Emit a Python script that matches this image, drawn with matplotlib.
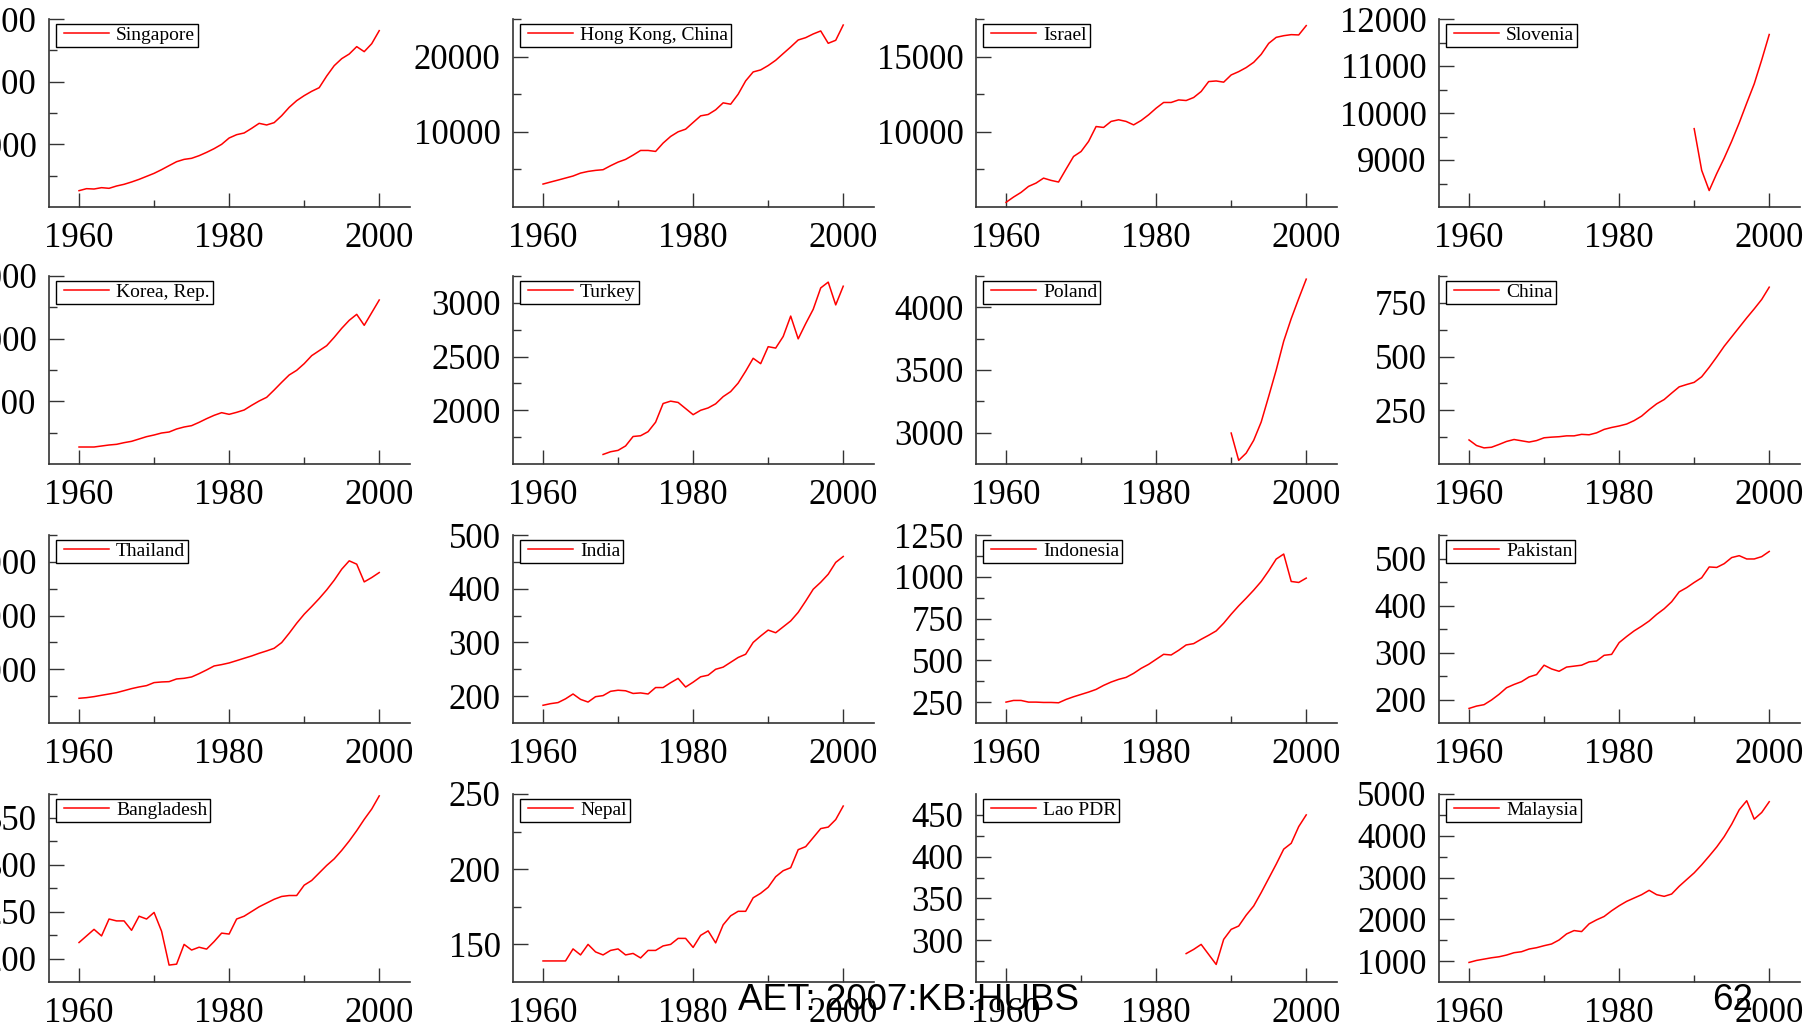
import numpy as np
import matplotlib
matplotlib.use("Agg")
import matplotlib.pyplot as plt
from matplotlib.ticker import FixedLocator, FuncFormatter
from matplotlib.lines import Line2D
from matplotlib.legend_handler import HandlerLine2D

plt.rcParams['font.family'] = ['Liberation Serif', 'DejaVu Serif']

# ---------------- data (GDP per capita) ----------------
countries = ["Singapore", "Hong Kong, China", "Israel", "Slovenia",
             "Korea, Rep.", "Turkey", "Poland", "China",
             "Thailand", "India", "Indonesia", "Pakistan",
             "Bangladesh", "Nepal", "Lao PDR", "Malaysia"]

start_years = [1960, 1960, 1960, 1990,
               1960, 1968, 1990, 1960,
               1960, 1960, 1960, 1960,
               1960, 1960, 1984, 1960]

singapore = [2606, 2926, 2870, 3085, 2980, 3350, 3620, 3990, 4410, 4890, 5370, 5960, 6600, 7230,
             7600, 7770, 8190, 8720, 9310, 10000, 11010, 11540, 11810, 12550, 13350, 13090, 13460,
             14570, 15900, 16970, 17770, 18460, 19040, 20900, 22550, 23670, 24410, 25590, 24790,
             26060, 28140]
hong_kong = [3050, 3320, 3580, 3850, 4120, 4510, 4730, 4870, 4960, 5490, 5970, 6330, 6900, 7520,
             7520, 7390, 8500, 9380, 10000, 10350, 11240, 12120, 12300, 12920, 13850, 13670, 15000,
             16770, 17960, 18230, 18810, 19510, 20400, 21280, 22210, 22520, 23010, 23410, 21770,
             22170, 24200]
israel = [5310, 5660, 5970, 6370, 6590, 6920, 6770, 6660, 7520, 8360, 8690, 9360, 10350, 10290,
          10690, 10800, 10690, 10460, 10750, 11130, 11570, 11950, 11950, 12120, 12080, 12280, 12680,
          13340, 13380, 13300, 13780, 14000, 14270, 14620, 15150, 15880, 16280, 16390, 16460,
          16440, 17060]
slovenia = [9667, 8780, 8350, 8710, 9040, 9400, 9790, 10210, 10620, 11130, 11670]
korea = [1356, 1356, 1356, 1436, 1516, 1570, 1702, 1809, 1995, 2181, 2314, 2473, 2553, 2793, 2952,
         3059, 3324, 3617, 3883, 4096, 3963, 4122, 4309, 4681, 5027, 5319, 5904, 6516, 7101, 7473,
         8005, 8644, 9043, 9441, 10106, 10824, 11463, 11941, 11064, 12074, 13085]
turkey = [1589, 1614, 1627, 1668, 1756, 1763, 1801, 1889, 2063, 2085, 2073, 2016, 1959, 2000,
          2022, 2060, 2127, 2174, 2253, 2364, 2484, 2434, 2592, 2579, 2687, 2877, 2665, 2807,
          2940, 3139, 3193, 2981, 3155]
poland = [2997, 2779, 2837, 2939, 3085, 3290, 3500, 3730, 3910, 4070, 4225]
china = [112, 86, 75, 78, 91, 105, 114, 108, 102, 109, 122, 125, 127, 131, 131, 138, 136, 145, 161,
         170, 177, 186, 202, 223, 253, 280, 300, 330, 359, 370, 380, 406, 450, 498, 548, 592, 636,
         680, 722, 766, 823]
thailand = [460, 472, 491, 516, 540, 565, 602, 640, 671, 696, 752, 764, 770, 820, 832, 857, 919,
            988, 1062, 1087, 1118, 1161, 1205, 1248, 1298, 1342, 1391, 1497, 1671, 1857, 2025,
            2168, 2317, 2478, 2658, 2863, 3019, 2957, 2627, 2708, 2801]
india = [183, 186, 188, 195, 204, 194, 189, 199, 201, 209, 211, 210, 205, 206, 204, 216, 216, 225,
         233, 217, 226, 236, 239, 250, 254, 263, 272, 278, 300, 312, 323, 318, 329, 340, 356, 377,
         399, 412, 427, 449, 460]
indonesia = [250, 260, 260, 250, 250, 248, 248, 246, 266, 282, 296, 310, 326, 350, 370, 386, 398,
             422, 452, 476, 506, 536, 532, 560, 592, 600, 626, 650, 676, 722, 776, 826, 872, 920,
             972, 1036, 1106, 1136, 972, 966, 992]
pakistan = [181, 186, 189, 199, 211, 225, 232, 238, 248, 253, 273, 265, 260, 269, 271, 273, 280,
            282, 294, 296, 321, 334, 346, 356, 367, 381, 393, 408, 429, 438, 449, 459, 482, 481,
            489, 502, 506, 499, 499, 504, 515]
bangladesh = [217, 224, 231, 224, 242, 240, 240, 230, 245, 242, 249, 229, 193, 194, 215, 209, 212,
              210, 218, 227, 226, 242, 245, 250, 255, 259, 263, 266, 267, 267, 278, 283, 291, 299,
              306, 315, 325, 336, 348, 359, 373]
nepal = [139, 139, 139, 139, 147, 143, 150, 145, 143, 146, 147, 143, 144, 141, 146, 146, 149, 150,
         154, 154, 148, 156, 159, 151, 163, 169, 172, 172, 181, 184, 188, 195, 199, 201, 213, 215,
         221, 227, 228, 233, 242]
lao = [284, 289, 295, 283, 271, 301, 313, 317, 330, 341, 357, 374, 391, 409, 416, 436, 450]
malaysia = [968, 1016, 1048, 1080, 1104, 1145, 1201, 1225, 1289, 1321, 1369, 1410, 1506, 1651,
            1731, 1707, 1892, 1988, 2068, 2205, 2325, 2430, 2510, 2590, 2695, 2590, 2550, 2606,
            2791, 2952, 3112, 3305, 3514, 3731, 3980, 4277, 4622, 4839, 4398, 4558, 4815]

series = [singapore, hong_kong, israel, slovenia,
          korea, turkey, poland, china,
          thailand, india, indonesia, pakistan,
          bangladesh, nepal, lao, malaysia]

# y-axis ranges and ticks
y_limits = [(0, 30000), (0, 25000), (5000, 17500), (8000, 12000),
            (0, 15000), (1500, 3250), (2750, 4250), (0, 875),
            (0, 3500), (150, 500), (125, 1250), (150, 550),
            (175, 375), (125, 250), (250, 475), (500, 5000)]
y_major = [[10000, 20000, 30000], [10000, 20000], [10000, 15000], [9000, 10000, 11000, 12000],
           [5000, 10000, 15000], [2000, 2500, 3000], [3000, 3500, 4000], [250, 500, 750],
           [1000, 2000, 3000], [200, 300, 400, 500], [250, 500, 750, 1000, 1250], [200, 300, 400, 500],
           [200, 250, 300, 350], [150, 200, 250], [300, 350, 400, 450], [1000, 2000, 3000, 4000, 5000]]
y_minor = [[5000, 15000, 25000], [5000, 15000, 25000], [7500, 12500, 17500], [8500, 9500, 10500, 11500],
           [2500, 7500, 12500], [1750, 2250, 2750, 3250], [3250, 3750, 4250], [125, 375, 625, 875],
           [500, 1500, 2500, 3500], [250, 350, 450], [375, 625, 875, 1125], [250, 350, 450, 550],
           [225, 275, 325, 375], [175, 225], [275, 325, 375, 425], [1500, 2500, 3500, 4500]]

x_major = [1960, 1980, 2000]
x_minor = [1970, 1990]

# ---------------- figure ----------------
W, H = 1809, 1026
fig = plt.figure(figsize=(W / 100, H / 100), dpi=100)

col_left = [49, 513, 976, 1439]
row_top = [19, 276, 535, 794]
ax_w, ax_h = 361, 188

# legend handle: line inset from the frame on the left
handler = {Line2D: HandlerLine2D(numpoints=2, marker_pad=0.26)}

for i, name in enumerate(countries):
    r, c = divmod(i, 4)
    left = col_left[c] / W
    bottom = 1 - (row_top[r] + ax_h) / H
    ax = fig.add_axes([left, bottom, ax_w / W, ax_h / H])
    vals = series[i]
    yrs = np.arange(start_years[i], start_years[i] + len(vals))
    ax.plot(yrs, vals, color='#ff0000', lw=1.1, label=name)

    ax.set_xlim(1956, 2004.1)
    ax.set_ylim(*y_limits[i])
    ax.xaxis.set_major_locator(FixedLocator(x_major))
    ax.xaxis.set_minor_locator(FixedLocator(x_minor))
    ax.yaxis.set_major_locator(FixedLocator(y_major[i]))
    ax.yaxis.set_minor_locator(FixedLocator(y_minor[i]))
    ax.yaxis.set_major_formatter(FuncFormatter(lambda v, p: f"{int(round(v))}"))

    for s in ['top', 'right']:
        ax.spines[s].set_visible(False)
    for s in ['left', 'bottom']:
        ax.spines[s].set_color('#333333')
        ax.spines[s].set_linewidth(1.2)

    ax.tick_params(axis='y', which='major', direction='in', length=11, width=1.0,
                   color='#333333', labelsize=25, pad=9)
    ax.tick_params(axis='y', which='minor', direction='in', length=6, width=1.0, color='#333333')
    ax.tick_params(axis='x', which='major', direction='in', length=10, width=1.0,
                   color='#333333', labelsize=25, pad=11)
    ax.tick_params(axis='x', which='minor', direction='in', length=5, width=1.0, color='#333333')

    leg = ax.legend(loc='upper left', bbox_to_anchor=(0.019, 0.975), borderaxespad=0,
                    borderpad=0.15, handlelength=2.83, handletextpad=0.12,
                    fontsize=14, fancybox=False, framealpha=1, edgecolor='black',
                    handler_map=handler)
    leg.get_frame().set_linewidth(1.0)

fig.text(908 / W, 1 - 1010 / H, "AET: 2007:KB:HUBS", ha='center', va='baseline',
         fontsize=26.5, family=['Liberation Sans', 'DejaVu Sans'])
fig.text(1712 / W, 1 - 1010 / H, "62", ha='left', va='baseline',
         fontsize=26.5, family=['Liberation Sans', 'DejaVu Sans'])

fig.savefig("out.png", dpi=100)
